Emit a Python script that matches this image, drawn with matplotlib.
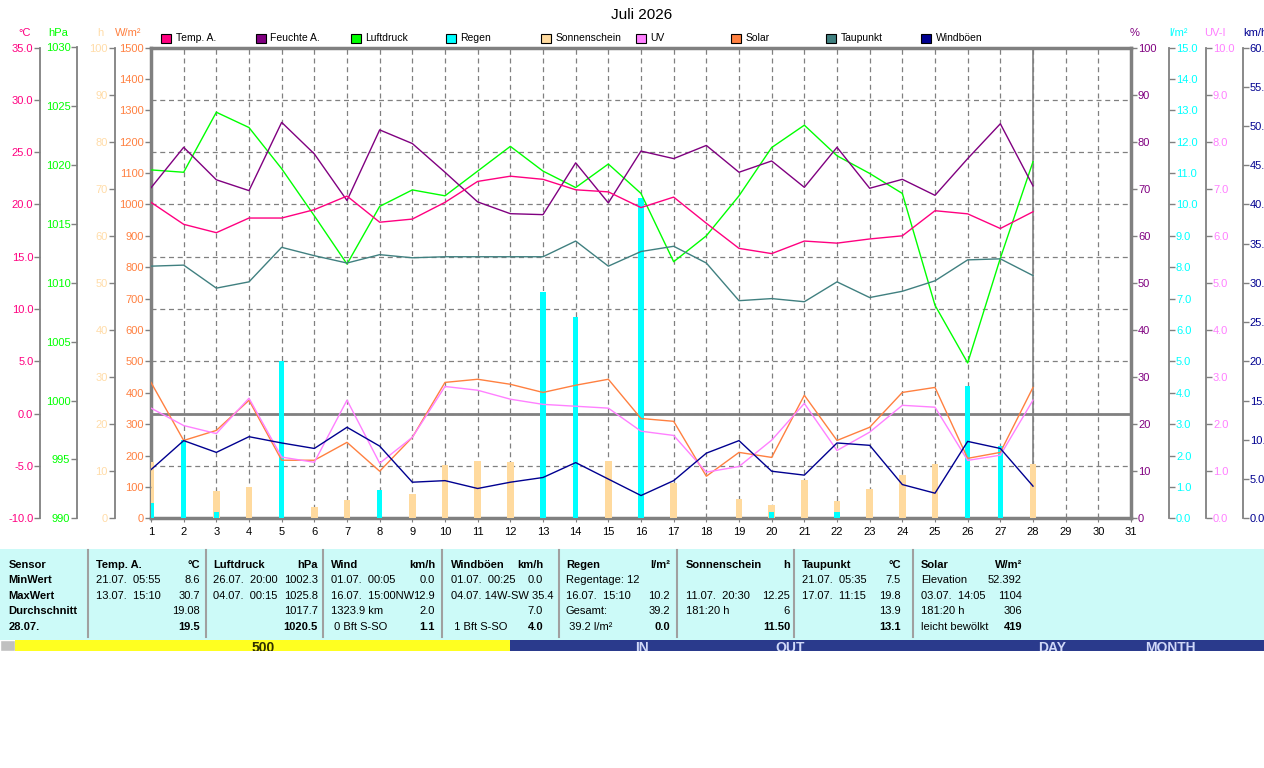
import numpy as np
import matplotlib
matplotlib.use('Agg')
import matplotlib.pyplot as plt
from matplotlib.patches import Rectangle
from matplotlib.lines import Line2D
from matplotlib.ticker import FormatStrFormatter

plt.rcParams['font.family'] = ['Liberation Sans', 'DejaVu Sans']

# daily values, 1.-28. Juli
days = np.arange(1, 29)
temp = [20.2, 18.1, 17.3, 18.7, 18.7, 19.5, 20.8, 18.3, 18.6, 20.2, 22.2, 22.7, 22.4, 21.4,
        21.2, 19.7, 20.7, 18.2, 15.8, 15.3, 16.5, 16.3, 16.7, 17.0, 19.4, 19.1, 17.7, 19.3]
humid = [70.2, 78.8, 71.9, 69.6, 84.1, 77.4, 67.5, 82.5, 79.6, 73.5, 67.2, 64.7, 64.5, 75.5,
         67.0, 78.0, 76.4, 79.2, 73.5, 75.9, 70.3, 78.8, 70.1, 72.0, 68.6, 76.4, 83.8, 70.6]
press = [1019.6, 1019.4, 1024.5, 1023.2, 1019.7, 1015.7, 1011.6, 1016.5, 1017.9, 1017.4,
         1019.5, 1021.6, 1019.5, 1018.1, 1020.1, 1017.6, 1011.8, 1014.0, 1017.4, 1021.5,
         1023.4, 1020.8, 1019.3, 1017.6, 1008.1, 1003.2, 1012.1, 1020.3]
dew = [14.1, 14.2, 12.0, 12.6, 15.9, 15.1, 14.4, 15.2, 14.9, 15.0, 15.0, 15.0, 15.0, 16.5,
       14.1, 15.5, 16.0, 14.4, 10.8, 11.0, 10.7, 12.6, 11.1, 11.7, 12.7, 14.7, 14.8, 13.2]
solar = [433, 248, 280, 376, 185, 185, 242, 150, 258, 433, 443, 427, 401, 424,
         443, 318, 309, 134, 210, 194, 392, 248, 290, 401, 417, 191, 210, 417]
uv = [2.34, 1.97, 1.80, 2.55, 1.30, 1.19, 2.51, 1.17, 1.72, 2.80, 2.72, 2.53, 2.42, 2.38,
      2.34, 1.85, 1.76, 0.98, 1.10, 1.66, 2.44, 1.44, 1.83, 2.40, 2.36, 1.23, 1.34, 2.51]
gust = [6.2, 9.9, 8.4, 10.4, 9.6, 8.9, 11.6, 9.2, 4.6, 4.8, 3.8, 4.6, 5.2, 7.1,
        5.0, 2.9, 4.8, 8.3, 9.9, 6.0, 5.5, 9.6, 9.3, 4.3, 3.2, 9.8, 8.9, 4.1]
rain = [0.5, 2.5, 0.2, 0, 5.0, 0, 0, 0.9, 0, 0, 0, 0, 7.2, 6.4,
        0, 10.2, 0, 0, 0, 0.2, 0, 0.2, 0, 0, 0, 4.2, 2.3, 0]
sun = [11.9, 0, 5.7, 6.6, 0, 2.3, 3.8, 0, 5.1, 11.3, 12.2, 12.0, 0, 0,
       12.2, 0, 7.4, 0, 4.0, 2.8, 8.1, 3.6, 6.2, 9.1, 11.5, 0, 0, 11.5]
today = 28

legend_names = ['Temp. A.', 'Feuchte A.', 'Luftdruck', 'Regen', 'Sonnenschein',
                'UV', 'Solar', 'Taupunkt', 'Windböen']

C_TEMP = '#FF0080'
C_HUM = '#800080'
C_PRESS = '#00FF00'
C_RAIN = '#00FFFF'
C_SUN = '#FFDA9E'
C_UV = '#FF80FF'
C_SOLAR = '#FF8040'
C_DEW = '#408080'
C_GUST = '#000090'
GRAY = '#808080'
legend_colors = [C_TEMP, C_HUM, C_PRESS, C_RAIN, C_SUN, C_UV, C_SOLAR, C_DEW, C_GUST]

W, H = 1264, 768
fig = plt.figure(figsize=(W / 100, H / 100), dpi=100)


def fx(x):
    return x / W


def fy(y):
    return 1 - y / H


L, R, T, B = 151, 1131, 47.5, 518.3
base = fig.add_axes([fx(L), fy(B), (R - L) / W, (B - T) / H])
base.set_xlim(1, 31)
base.set_ylim(-10, 35)


def scale_axis(side, pos, lo, hi, step, fmt, color):
    a = base.twinx()
    a.set_ylim(lo, hi)
    for s in a.spines.values():
        s.set_visible(False)
    sp = a.spines[side]
    sp.set_position(('axes', pos))
    sp.set_visible(pos not in (0.0, 1.0))
    sp.set_color(GRAY)
    sp.set_linewidth(1.3)
    if side == 'left':
        a.yaxis.tick_left()
    else:
        a.yaxis.tick_right()
    a.set_yticks(np.arange(lo, hi + step / 2, step))
    a.yaxis.set_major_formatter(FormatStrFormatter(fmt))
    a.tick_params(axis='y', direction='out', length=4, width=1, color=GRAY,
                  labelcolor=color, labelsize=8, pad=1)
    return a


ax_sun = scale_axis('left', (114.7 - L) / (R - L), 0, 100, 10, '%d', '#FFDCA8')
ax_rain = scale_axis('right', (1169 - L) / (R - L), 0, 15, 1, '%.1f', C_RAIN)
ax_sol = scale_axis('left', 0.0, 0, 1500, 100, '%d', C_SOLAR)
ax_uv = scale_axis('right', (1206 - L) / (R - L), 0, 10, 1, '%.1f', C_UV)
ax_gust = scale_axis('right', (1242.7 - L) / (R - L), 0, 60, 5, '%.1f', C_GUST)
ax_press = scale_axis('left', (77.3 - L) / (R - L), 990, 1030, 5, '%d', C_PRESS)
ax_hum = scale_axis('right', 1.0, 0, 100, 10, '%d', C_HUM)
ax_temp = scale_axis('left', (40.3 - L) / (R - L), -10, 35, 5, '%.1f', C_TEMP)

# base: grid + frame
base.set_xticks(np.arange(1, 32))
base.set_yticks(np.arange(-5, 31, 5))
base.tick_params(axis='y', left=False, right=False, labelleft=False, labelright=False)
base.tick_params(axis='x', direction='out', length=3, color=GRAY, labelsize=8, pad=3)
base.grid(True, color=GRAY, linestyle=(0, (4, 3)), linewidth=0.9)
base.axhline(0, color=GRAY, lw=2)
base.axvline(today, color=GRAY, lw=1.2)
for s in base.spines.values():
    s.set_color(GRAY)
    s.set_linewidth(2.5)

# bars
ax_sun.bar(days, sun, width=0.21, color=C_SUN, linewidth=0)
ax_rain.bar(days, rain, width=0.16, color=C_RAIN, linewidth=0)

# lines
lw = 1.0
ax_sol.plot(days, solar, color=C_SOLAR, lw=lw)
ax_uv.plot(days, uv, color=C_UV, lw=lw)
ax_gust.plot(days, gust, color=C_GUST, lw=lw)
ax_press.plot(days, press, color=C_PRESS, lw=lw)
ax_hum.plot(days, humid, color=C_HUM, lw=lw)
ax_temp.plot(days, dew, color=C_DEW, lw=lw)
ax_temp.plot(days, temp, color=C_TEMP, lw=lw)

# title, units
fig.text(fx(642), fy(15), 'Juli 2026', ha='center', va='center', fontsize=11)
units = [(25, '°C', C_TEMP, 'center'), (58, 'hPa', C_PRESS, 'center'),
         (100, 'h', '#FFDCA8', 'center'), (128, 'W/m²', C_SOLAR, 'center'),
         (1135, '%', C_HUM, 'center'), (1179, 'l/m²', C_RAIN, 'center'),
         (1215, 'UV-I', C_UV, 'center'), (1243, 'km/h', C_GUST, 'left')]
for x, t, c, ha in units:
    fig.text(fx(x), fy(33), t, color=c, ha=ha, va='center', fontsize=8)

# legend
for i, (name, c) in enumerate(zip(legend_names, legend_colors)):
    x0 = 161 + 95 * i
    fig.add_artist(Rectangle((fx(x0), fy(42.5)), 10 / W, 9 / H, transform=fig.transFigure,
                             facecolor=c, edgecolor='black', lw=0.8))
    fig.text(fx(x0 + 14.5), fy(38), name, ha='left', va='center', fontsize=7.5)

# table
fig.add_artist(Rectangle((0, fy(640)), 1, (640 - 549) / H, transform=fig.transFigure,
                         facecolor='#CCFAF8', edgecolor='none', zorder=0))
for x in [88.3, 205.7, 323.3, 441.7, 559, 676.7, 794.3, 913.3]:
    fig.add_artist(Line2D([fx(x), fx(x)], [fy(550), fy(637)], transform=fig.transFigure,
                          color='#A0A0A0', lw=1.5))

row_y = [565, 580, 596, 611, 627]
fig_rows = ['Sensor', 'MinWert', 'MaxWert', 'Durchschnitt', '28.07.']
for y, t in zip(row_y, fig_rows):
    fig.text(fx(8.3), fy(y), t, ha='left', va='center', fontsize=8, fontweight='bold')

columns = [
    (96, 200, [('Temp. A.', '°C'), ('21.07.  05:55', '8.6'), ('13.07.  15:10', '30.7'),
               ('', '19.08'), ('', '19.5')]),
    (213, 318, [('Luftdruck', 'hPa'), ('26.07.  20:00', '1002.3'), ('04.07.  00:15', '1025.8'),
                ('', '1017.7'), ('', '1020.5')]),
    (331, 435, [('Wind', 'km/h'), ('01.07.  00:05', '0.0'), ('16.07.  15:00NW', '12.9'),
                ('1323.9 km', '2.0'), (' 0 Bft S-SO', '1.1')]),
    (451, 543, [('Windböen', 'km/h'), ('01.07.  00:25', '0.0'), ('04.07. 14W-SW 35.4', ''),
                ('', '7.0'), (' 1 Bft S-SO', '4.0')]),
    (566, 670, [('Regen', 'l/m²'), ('Regentage: 12', ''), ('16.07.  15:10', '10.2'),
                ('Gesamt:', '39.2'), (' 39.2 l/m²', '0.0')]),
    (686, 790, [('Sonnenschein', 'h'), ('', ''), ('11.07.  20:30', '12.25'),
                ('181:20 h', '6'), ('', '11.50')]),
    (802, 901, [('Taupunkt', '°C'), ('21.07.  05:35', '7.5'), ('17.07.  11:15', '19.8'),
                ('', '13.9'), ('', '13.1')]),
    (921, 1022, [('Solar', 'W/m²'), ('Elevation', '52.392'), ('03.07.  14:05', '1104'),
                 ('181:20 h', '306'), ('leicht bewölkt', '419')]),
]
for xl, xr, rows in columns:
    for i, (lt, rt) in enumerate(rows):
        lwgt = 'bold' if i == 0 else 'normal'
        rwgt = 'bold' if i in (0, 4) else 'normal'
        if lt:
            fig.text(fx(xl), fy(row_y[i]), lt, ha='left', va='center', fontsize=8,
                     fontweight=lwgt)
        if rt:
            fig.text(fx(xr), fy(row_y[i]), rt, ha='right', va='center', fontsize=8,
                     fontweight=rwgt)

# cut-off toolbar strip below the table
strip = fig.add_axes([0, fy(651), 1, 11 / H])
strip.set_xlim(0, W)
strip.set_ylim(651, 640)
strip.axis('off')
strip.add_patch(Rectangle((0, 640), 15, 11, facecolor='#C0C0C0', edgecolor='white', lw=1))
strip.add_patch(Rectangle((15, 640), 495, 11, facecolor='#FFFF20', edgecolor='none'))
strip.add_patch(Rectangle((510, 640), W - 510, 11, facecolor='#2A3A8C', edgecolor='none'))
for x, t, c in [(263, '500', '#303000'), (642, 'IN', '#D0D8F8'), (790, 'OUT', '#D0D8F8'),
                (1052, 'DAY', '#D0D8F8'), (1170, 'MONTH', '#D0D8F8')]:
    strip.text(x, 641.5, t, ha='center', va='top', fontsize=10, fontweight='bold',
               color=c, clip_on=True)

fig.savefig('out.png', dpi=100)
